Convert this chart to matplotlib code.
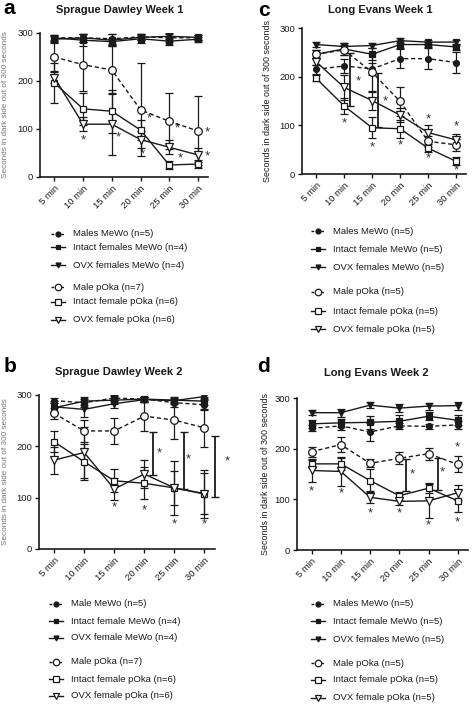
import matplotlib
matplotlib.use("Agg")
import matplotlib.pyplot as plt
from matplotlib.lines import Line2D

W, H = 472, 704
times = ["5 min", "10 min", "15 min", "20 min", "25 min", "30 min"]

# ---------- Panel a : Sprague Dawley Week 1 ----------
a_males_mewo = [290, 290, 288, 292, 290, 290]
a_males_mewo_err = [6, 8, 10, 6, 8, 5]
a_intact_mewo = [290, 285, 282, 288, 283, 287]
a_intact_mewo_err = [5, 12, 8, 8, 8, 5]
a_ovx_mewo = [287, 290, 285, 291, 293, 291]
a_ovx_mewo_err = [6, 8, 12, 6, 6, 5]
a_male_poka = [250, 234, 223, 140, 116, 96]
a_male_poka_err = [30, 55, 50, 97, 58, 72]
a_intact_poka = [196, 142, 137, 98, 25, 27]
a_intact_poka_err = [42, 33, 45, 20, 8, 8]
a_ovx_poka = [207, 110, 110, 78, 62, 46]
a_ovx_poka_err = [12, 15, 64, 17, 15, 14]
a_star_x = [1.0, 2.23, 3.3, 3.05, 4.27, 4.38, 5.34, 5.34]
a_star_y = [77, 82, 122, 47, 101, 38, 92, 42]

# ---------- Panel c : Long Evans Week 1 ----------
c_males_mewo = [215, 222, 216, 237, 237, 229]
c_males_mewo_err = [10, 15, 12, 20, 22, 22]
c_intact_mewo = [246, 257, 246, 266, 266, 261]
c_intact_mewo_err = [8, 12, 12, 8, 6, 6]
c_ovx_mewo = [266, 262, 264, 274, 271, 271]
c_ovx_mewo_err = [5, 8, 6, 5, 5, 5]
c_male_poka = [246, 255, 209, 149, 67, 60]
c_male_poka_err = [8, 10, 40, 30, 12, 12]
c_intact_poka = [197, 140, 95, 93, 53, 26]
c_intact_poka_err = [6, 17, 22, 18, 8, 8]
c_ovx_poka = [231, 178, 151, 121, 85, 70]
c_ovx_poka_err = [8, 25, 20, 15, 15, 12]
c_star_x = [1.0, 2.0, 3.0, 4.0, 4.0, 5.0, 5.0, 1.51, 2.47]
c_star_y = [103, 55, 58, 112, 32, 97, 8, 190, 149]
c_bracket_x = [1.23, 2.2]
c_bracket_lo = [140, 96]
c_bracket_hi = [248, 207]

# ---------- Panel b : Sprague Dawley Week 2 ----------
b_males_mewo = [289, 285, 294, 292, 285, 281]
b_males_mewo_err = [5, 8, 6, 5, 8, 10]
b_intact_mewo = [275, 288, 290, 292, 290, 288]
b_intact_mewo_err = [10, 8, 8, 5, 6, 8]
b_ovx_mewo = [277, 272, 283, 291, 289, 297]
b_ovx_mewo_err = [12, 15, 8, 5, 6, 5]
b_male_poka = [264, 230, 230, 259, 251, 236]
b_male_poka_err = [10, 22, 26, 30, 36, 37]
b_intact_poka = [209, 170, 133, 128, 119, 107]
b_intact_poka_err = [20, 35, 22, 31, 53, 46]
b_ovx_poka = [173, 188, 117, 146, 119, 108]
b_ovx_poka_err = [26, 50, 22, 28, 33, 40]
b_star_x = [2.0, 3.0, 4.0, 5.0, 3.5, 4.47, 5.75]
b_star_y = [81, 76, 47, 47, 186, 175, 170]
b_bracket_x = [3.3, 4.32, 5.34]
b_bracket_lo = [144, 116, 102]
b_bracket_hi = [228, 228, 221]

# ---------- Panel d : Long Evans Week 2 ----------
d_males_mewo = [240, 245, 233, 245, 244, 247]
d_males_mewo_err = [6, 8, 18, 6, 5, 8]
d_intact_mewo = [249, 251, 252, 254, 264, 256]
d_intact_mewo_err = [8, 8, 13, 12, 8, 10]
d_ovx_mewo = [271, 271, 286, 280, 284, 285]
d_ovx_mewo_err = [5, 8, 6, 8, 7, 8]
d_male_poka = [194, 208, 171, 181, 190, 169]
d_male_poka_err = [10, 15, 8, 12, 12, 16]
d_intact_poka = [170, 170, 137, 107, 122, 97]
d_intact_poka_err = [8, 12, 22, 8, 10, 22]
d_ovx_poka = [157, 155, 104, 96, 97, 113]
d_ovx_poka_err = [23, 28, 12, 8, 33, 15]
d_star_x = [0.0, 1.0, 2.0, 3.0, 4.0, 5.0, 5.0, 3.44, 4.47]
d_star_y = [116, 112, 72, 72, 49, 55, 203, 149, 153]
d_bracket_x = [3.24, 4.32]
d_bracket_lo = [116, 119]
d_bracket_hi = [179, 182]

a_labels = ["Males MeWo (n=5)", "Intact females MeWo (n=4)", "OVX females MeWo (n=4)",
            "Male pOka (n=7)", "Intact female pOka (n=6)", "OVX female pOka (n=6)"]
c_labels = ["Males MeWo (n=5)", "Intact female MeWo (n=5)", "OVX females MeWo (n=5)",
            "Male pOka (n=5)", "Intact female pOka (n=5)", "OVX female pOka (n=5)"]
b_labels = ["Male MeWo (n=5)", "Intact female MeWo (n=4)", "OVX female MeWo (n=4)",
            "Male pOka (n=7)", "Intact female pOka (n=6)", "OVX female pOka (n=6)"]
d_labels = ["Males MeWo (n=5)", "Intact female MeWo (n=5)", "OVX females MeWo (n=5)",
            "Male pOka (n=5)", "Intact female pOka (n=5)", "OVX female pOka (n=5)"]

INK = "#1a1a1a"
styles = [
    dict(marker="o", mfc=INK, ls="--", ms=4.2),
    dict(marker="s", mfc=INK, ls="-", ms=3.8),
    dict(marker="v", mfc=INK, ls="-", ms=4.2),
    dict(marker="o", mfc="white", ls="--", ms=5.5),
    dict(marker="s", mfc="white", ls="-", ms=5.0),
    dict(marker="v", mfc="white", ls="-", ms=5.5),
]

plt.rcParams["font.family"] = ["Liberation Sans", "DejaVu Sans"]
fig = plt.figure(figsize=(W / 100, H / 100), dpi=100)


def px_rect(left, right, top, bottom):
    return [left / W, 1 - bottom / H, (right - left) / W, (bottom - top) / H]


def panel(rect, means, errs, star_x, star_y, br_x, br_lo, br_hi, title, title_xy,
          letter, letter_xy, ylab_color, ylab_x, ylab_size, labels, leg_x, leg_ys):
    ax = fig.add_axes(px_rect(*rect))
    x = list(range(len(times)))
    for m, e, st in zip(means, errs, styles):
        ax.errorbar(x, m, yerr=e, color=INK, lw=1.0, elinewidth=0.9, capsize=2.6,
                    capthick=0.9, marker=st["marker"], ms=st["ms"], mfc=st["mfc"],
                    mec=INK, mew=0.9, ls=st["ls"], dashes=(3, 2) if st["ls"] == "--" else None,
                    zorder=3)
    for bx, lo, hi in zip(br_x, br_lo, br_hi):
        ax.errorbar([bx], [(lo + hi) / 2], yerr=[(hi - lo) / 2], color=INK, lw=0,
                    elinewidth=1.3, capsize=2.6, capthick=1.0, clip_on=False)
    for sx, sy in zip(star_x, star_y):
        ax.text(sx, sy, "*", ha="center", va="center", fontsize=9.5, color="#333",
                clip_on=False)
    ax.set_xlim(-0.5, 5.35)
    ax.set_ylim(0, 300)
    ax.set_yticks([0, 100, 200, 300])
    ax.set_xticks(x)
    ax.set_xticklabels(times, rotation=45, ha="right", rotation_mode="anchor")
    ax.tick_params(labelsize=6.8, length=3, width=1.0, color=INK, labelcolor=INK, pad=2)
    for s in ("top", "right"):
        ax.spines[s].set_visible(False)
    for s in ("left", "bottom"):
        ax.spines[s].set_linewidth(1.2)
        ax.spines[s].set_color(INK)
    fig.text(title_xy[0] / W, 1 - title_xy[1] / H, title, ha="center", va="center",
             fontsize=8.0, fontweight="bold", color=INK)
    fig.text(letter_xy[0] / W, 1 - letter_xy[1] / H, letter, ha="center", va="center",
             fontsize=15, fontweight="bold", color="black")
    ymid = (rect[2] + rect[3]) / 2
    fig.text(ylab_x / W, 1 - ymid / H, "Seconds in dark side out of 300 seconds",
             rotation=90, ha="center", va="center", fontsize=ylab_size, color=ylab_color)
    # legend
    for lab, st, ly in zip(labels, styles, leg_ys):
        yy = 1 - ly / H
        fig.add_artist(Line2D([(leg_x - 7) / W, (leg_x + 7) / W], [yy, yy],
                              transform=fig.transFigure, color=INK, lw=1.0,
                              ls=st["ls"], dashes=(2, 1.5) if st["ls"] == "--" else (None, None)))
        fig.add_artist(Line2D([leg_x / W], [yy], transform=fig.transFigure,
                              marker=st["marker"], ms=st["ms"] * 0.85, mfc=st["mfc"],
                              mec=INK, mew=0.9, ls="none"))
        fig.text((leg_x + 15) / W, yy, lab, ha="left", va="center", fontsize=6.8, color=INK)
    return ax


panel((40, 208, 33, 177),
      [a_males_mewo, a_intact_mewo, a_ovx_mewo, a_male_poka, a_intact_poka, a_ovx_poka],
      [a_males_mewo_err, a_intact_mewo_err, a_ovx_mewo_err, a_male_poka_err,
       a_intact_poka_err, a_ovx_poka_err],
      a_star_x, a_star_y, [], [], [],
      "Sprague Dawley Week 1", (120, 10), "a", (9, 9), "#777", 6, 5.9,
      a_labels, 58, [234, 247, 265, 287, 302, 320])

panel((302, 466, 28, 174),
      [c_males_mewo, c_intact_mewo, c_ovx_mewo, c_male_poka, c_intact_poka, c_ovx_poka],
      [c_males_mewo_err, c_intact_mewo_err, c_ovx_mewo_err, c_male_poka_err,
       c_intact_poka_err, c_ovx_poka_err],
      c_star_x, c_star_y, c_bracket_x, c_bracket_lo, c_bracket_hi,
      "Long Evans Week 1", (380, 10), "c", (264, 11), INK, 268, 6.4,
      c_labels, 318, [231, 249, 267, 292, 311, 329])

panel((39, 215, 395, 549),
      [b_males_mewo, b_intact_mewo, b_ovx_mewo, b_male_poka, b_intact_poka, b_ovx_poka],
      [b_males_mewo_err, b_intact_mewo_err, b_ovx_mewo_err, b_male_poka_err,
       b_intact_poka_err, b_ovx_poka_err],
      b_star_x, b_star_y, b_bracket_x, b_bracket_lo, b_bracket_hi,
      "Sprague Dawley Week 2", (119, 372), "b", (10, 366), "#777", 6, 5.9,
      b_labels, 56, [604, 621, 638, 662, 679, 696])

panel((297, 468, 398, 550),
      [d_males_mewo, d_intact_mewo, d_ovx_mewo, d_male_poka, d_intact_poka, d_ovx_poka],
      [d_males_mewo_err, d_intact_mewo_err, d_ovx_mewo_err, d_male_poka_err,
       d_intact_poka_err, d_ovx_poka_err],
      d_star_x, d_star_y, d_bracket_x, d_bracket_lo, d_bracket_hi,
      "Long Evans Week 2", (376, 373), "d", (264, 366), INK, 265, 6.4,
      d_labels, 318, [604, 621, 639, 663, 680, 698])

fig.savefig("out.png", dpi=100)
